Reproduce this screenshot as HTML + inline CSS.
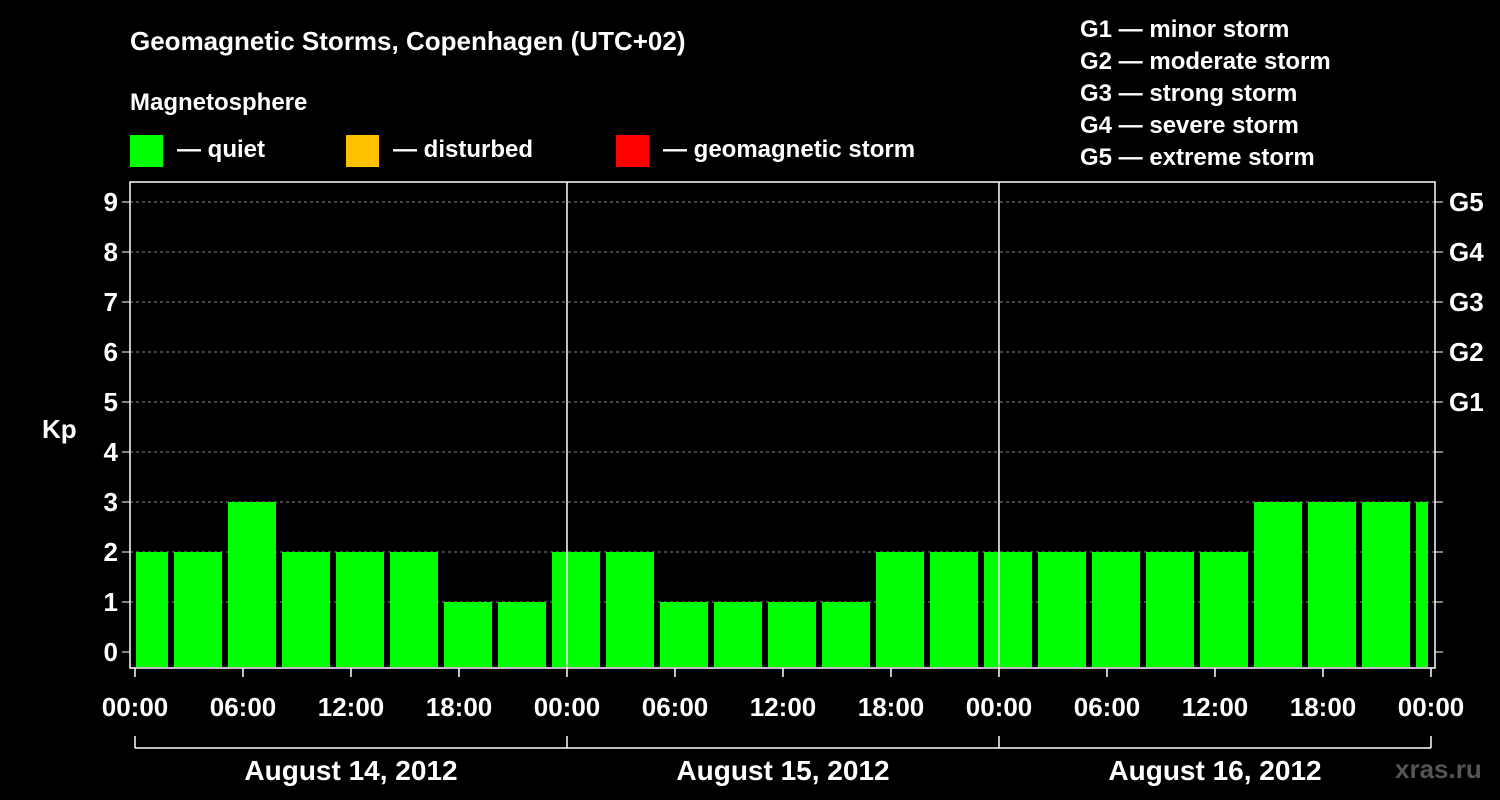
<!DOCTYPE html>
<html><head><meta charset="utf-8"><style>
body{margin:0;background:#000;}
svg{display:block;font-family:"Liberation Sans",Arial,sans-serif;font-weight:bold;}
</style></head><body>
<svg id="chart" width="1500" height="800" viewBox="0 0 1500 800">
<rect width="1500" height="800" fill="#000"/>
<text x="130" y="50" fill="#fff" font-size="26">Geomagnetic Storms, Copenhagen (UTC+02)</text>
<text x="130" y="110" fill="#fff" font-size="24">Magnetosphere</text>
<g><rect x="130" y="135" width="33" height="32" fill="#00ff00"/><text x="177" y="157" fill="#fff" font-size="24">— quiet</text></g>
<g><rect x="346" y="135" width="33" height="32" fill="#ffc000"/><text x="393" y="157" fill="#fff" font-size="24">— disturbed</text></g>
<g><rect x="616" y="135" width="33" height="32" fill="#ff0000"/><text x="663" y="157" fill="#fff" font-size="24">— geomagnetic storm</text></g>
<g fill="#fff" font-size="24">
<text x="1080" y="37">G1 — minor storm</text>
<text x="1080" y="69">G2 — moderate storm</text>
<text x="1080" y="101">G3 — strong storm</text>
<text x="1080" y="133">G4 — severe storm</text>
<text x="1080" y="165">G5 — extreme storm</text>
</g>
<text x="42" y="438" fill="#fff" font-size="26">Kp</text>
<text x="1395" y="778" fill="#555" font-size="26">xras.ru</text>
<g id="grid"></g><g id="bars"></g><g id="axes"></g>
</svg>
<script>
const kpValues=[2,2,3,2,2,2,1,1,2,2,1,1,1,1,2,2,2,2,2,2,2,3,3,3,3];
const barStartHours=[-1,2,5,8,11,14,17,20,23,26,29,32,35,38,41,44,47,50,53,56,59,62,65,68,71];
const yTicks=[0,1,2,3,4,5,6,7,8,9];
const gLabels=["","","","","","G1","G2","G3","G4","G5"];
const xTickLabels=["00:00","06:00","12:00","18:00","00:00","06:00","12:00","18:00","00:00","06:00","12:00","18:00","00:00"];
const dayLabels=["August 14, 2012","August 15, 2012","August 16, 2012"];
const NS="http://www.w3.org/2000/svg";
const L=130,R=1435,T=182,B=668,X0=135,X1=1431,totalH=72;
const x=h=>X0+(X1-X0)*h/totalH;
const y=v=>652-50*v;
function mk(tag,attrs,parent){const e=document.createElementNS(NS,tag);for(const k in attrs)e.setAttribute(k,attrs[k]);parent.appendChild(e);return e;}
const grid=document.getElementById('grid'),bars=document.getElementById('bars'),axes=document.getElementById('axes');
yTicks.forEach((v,i)=>{
 if(v>=1){const gl=mk('line',{x1:L,x2:R,y1:y(v),y2:y(v),stroke:'#888','stroke-dasharray':'3,3','stroke-width':1},grid);
 
 }
 mk('line',{x1:L-8,x2:L,y1:y(v),y2:y(v),stroke:'#fff','stroke-width':1},axes);
 mk('line',{x1:R,x2:R+8,y1:y(v),y2:y(v),stroke:'#fff','stroke-width':1},axes);
 const t=mk('text',{x:L-12,y:y(v)+9,fill:'#fff','font-size':26,'text-anchor':'end'},axes);t.textContent=v;
 
 
 if(gLabels[i]){const g=mk('text',{x:R+14,y:y(v)+9,fill:'#fff','font-size':26},axes);g.textContent=gLabels[i];
 
 }
});
kpValues.forEach((v,i)=>{
 const s=Math.max(x(barStartHours[i])+3,X0+1),e=Math.min(x(barStartHours[i]+3)-3,X1-3);
 const c=v>=5?'#ff0000':(v>=4?'#ffc000':'#00ff00');
 const r=mk('rect',{x:s,y:y(v),width:e-s,height:B-1-y(v),fill:c},bars);
 
 
});
const fr=mk('rect',{x:L,y:T,width:R-L,height:B-T,fill:'none',stroke:'#fff','stroke-width':1.5},axes);


[24,48].forEach(h=>{mk('line',{x1:x(h),x2:x(h),y1:T,y2:B,stroke:'#fff','stroke-width':1.5},axes);});
xTickLabels.forEach((lab,i)=>{
 const h=i*6;
 mk('line',{x1:x(h),x2:x(h),y1:B,y2:B+9,stroke:'#fff','stroke-width':1.5},axes);
 const t=mk('text',{x:x(h),y:716,fill:'#fff','font-size':26,'text-anchor':'middle'},axes);t.textContent=lab;
 
 
});
mk('line',{x1:X0,x2:X1,y1:748,y2:748,stroke:'#fff','stroke-width':1.5},axes);
[0,24,48,72].forEach(h=>mk('line',{x1:x(h),x2:x(h),y1:736,y2:748,stroke:'#fff','stroke-width':1.5},axes));
dayLabels.forEach((d,i)=>{
 const t=mk('text',{x:x(i*24+12),y:780,fill:'#fff','font-size':28,'text-anchor':'middle'},axes);t.textContent=d;
 
 
});
</script>
</body></html>
